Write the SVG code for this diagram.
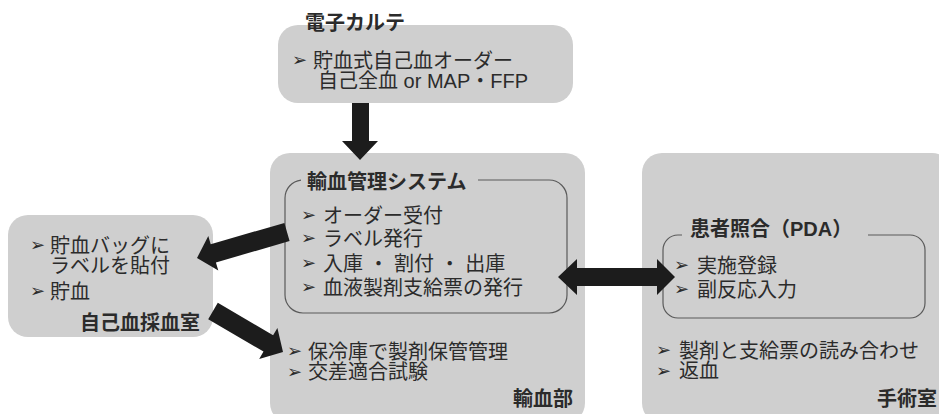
<svg xmlns="http://www.w3.org/2000/svg" width="939" height="414" viewBox="0 0 939 414">
<style>
.box{fill:#cfcfcf;}
.frame{fill:none;stroke:#5a5a5a;stroke-width:1.2;}
text{font-family:"Liberation Sans","Noto Sans CJK JP",sans-serif;font-size:20px;fill:#2b2b2b;}
.t{font-weight:bold;}
.b{font-family:"DejaVu Sans",sans-serif;font-size:18px;}
.arrow{fill:#1c1c1c;}
</style>
<rect width="939" height="414" fill="#ffffff"/>
<g id="emr">
<rect class="box" x="278" y="25" width="295" height="78" rx="20"/>
<text class="t" x="305" y="30">電子カルテ</text>
<text class="b" x="292" y="66">➢</text>
<text x="313" y="67.5">貯血式自己血オーダー</text>
<text x="318" y="87.5">自己全血 or MAP・FFP</text>
</g>
<g id="transfusion">
<rect class="box" x="270" y="153" width="315" height="270" rx="20"/>
<path class="frame" d="M478 180 H549 A18 18 0 0 1 567 198 V295 A18 18 0 0 1 549 313 H303 A18 18 0 0 1 285 295 V198 A18 18 0 0 1 301 180.1"/>
<text class="t" x="307" y="188.5">輸血管理システム</text>
<text class="b" x="301" y="221">➢</text>
<text x="323" y="222.5">オーダー受付</text>
<text class="b" x="301" y="244">➢</text>
<text x="323" y="245.5">ラベル発行</text>
<text class="b" x="301" y="269">➢</text>
<text x="323" y="270.5">入庫 ・ 割付 ・ 出庫</text>
<text class="b" x="301" y="293">➢</text>
<text x="323" y="294.5">血液製剤支給票の発行</text>
<text class="b" x="287" y="357">➢</text>
<text x="308" y="358.5">保冷庫で製剤保管管理</text>
<text class="b" x="287" y="377.5">➢</text>
<text x="308" y="379">交差適合試験</text>
<text class="t" x="573" y="405.5" text-anchor="end">輸血部</text>
</g>
<g id="or">
<rect class="box" x="642" y="153" width="310" height="270" rx="20"/>
<path class="frame" d="M868 235 H910 A15 15 0 0 1 925 250 V303 A15 15 0 0 1 910 318 H678 A15 15 0 0 1 663 303 V250 A15 15 0 0 1 678 235 H682"/>
<text class="t" x="690" y="235.5">患者照合（PDA）</text>
<text class="b" x="674" y="271">➢</text>
<text x="697" y="272.5">実施登録</text>
<text class="b" x="674" y="295">➢</text>
<text x="697" y="296.5">副反応入力</text>
<text class="b" x="656" y="356">➢</text>
<text x="679" y="357.5">製剤と支給票の読み合わせ</text>
<text class="b" x="656" y="376.5">➢</text>
<text x="679" y="378">返血</text>
<text class="t" x="937" y="405.5" text-anchor="end">手術室</text>
</g>
<g id="collection">
<rect class="box" x="8" y="215" width="205" height="122" rx="20"/>
<text class="b" x="30" y="251">➢</text>
<text x="50" y="252.5">貯血バッグに</text>
<text x="50" y="273">ラベルを貼付</text>
<text class="b" x="30" y="297">➢</text>
<text x="50" y="298.5">貯血</text>
<text class="t" x="200" y="330" text-anchor="end">自己血採血室</text>
</g>
<g id="connectors">
<polygon class="arrow" points="352,103 369,103 369,141 378,141 360,160 342,141 352,141"/>
<polygon class="arrow" points="284.4,222.9 210.7,244.2 208.3,236 197,258 218.3,270.6 215.9,262.4 289.6,241.1"/>
<polygon class="arrow" points="208.2,319.2 263.5,351.6 259.2,358.9 283,352 277.4,327.9 273.1,335.2 217.8,302.8"/>
<polygon class="arrow" points="558,277 577,259 577,268 657,268 657,259 675,277 657,295 657,286 577,286 577,295"/>
</g>
</svg>
